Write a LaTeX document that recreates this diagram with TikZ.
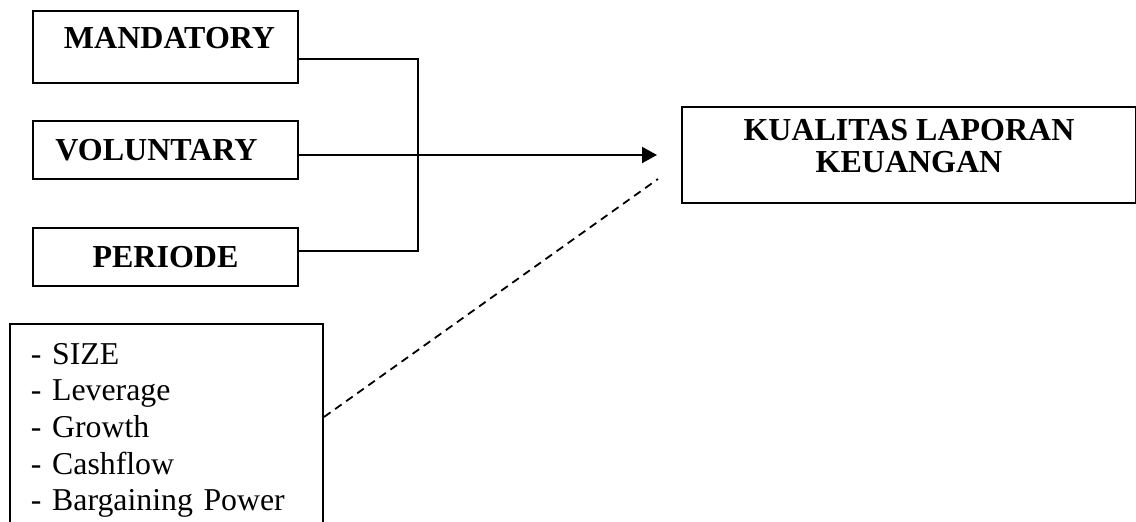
\documentclass[tikz,border=0pt]{standalone}
\usepackage{fontspec}
\setmainfont{Liberation Serif}
\usetikzlibrary{arrows.meta}
\begin{document}
\begin{tikzpicture}[x=0.5pt,y=-0.5pt,
  box/.style={draw,line width=1pt,rectangle,inner sep=0pt,align=center,
    font=\bfseries\fontsize{16}{16}\selectfont},
  link/.style={line width=1pt},
  flow/.style={line width=1pt,-{Triangle[length=7.5pt,width=8pt]}},
  hint/.style={line width=0.9pt,dash pattern=on 4pt off 2.8pt}]
\useasboundingbox (0,0) rectangle (1136,522);
\clip (0,0) rectangle (1136,522);
% independent variables
\node[box,minimum width=132.5pt,minimum height=36pt,text depth=9pt] (mand) at (165.5,47) {\hspace*{4pt}MANDATORY};
\node[box,minimum width=132.5pt,minimum height=29pt] (vol) at (165.5,150) {VOLUNTARY\hspace*{9pt}};
\node[box,minimum width=132.5pt,minimum height=29pt] (per) at (165.5,257) {PERIODE};
% dependent variable
\node[box,minimum width=227pt,minimum height=48pt,text depth=9.5pt] (kual) at (909,155) {KUALITAS LAPORAN\\KEUANGAN};
% control variables
\node[draw,line width=1pt,anchor=north west,align=left,text width=135.5pt,
  inner xsep=10.5pt,inner ysep=9.5pt,font=\fontsize{15.9}{18.35}\selectfont] (ctrl) at (9,323)
  {- SIZE\\- Leverage\\- Growth\\- Cashflow\\- Bargaining Power};
% connectors
\coordinate (jm) at (418,59);
\coordinate (jp) at (418,251);
\coordinate (tip) at (657,155);
\coordinate (dend) at (658,179);
\coordinate (dstart) at (322,417);
\draw[link] (mand.east |- jm) -- (jm) -- (jp) -- (per.east |- jp);
\draw[flow] (vol.east |- tip) -- (tip);
\draw[hint] (ctrl.east |- dstart) -- (dend);
\end{tikzpicture}
\end{document}
